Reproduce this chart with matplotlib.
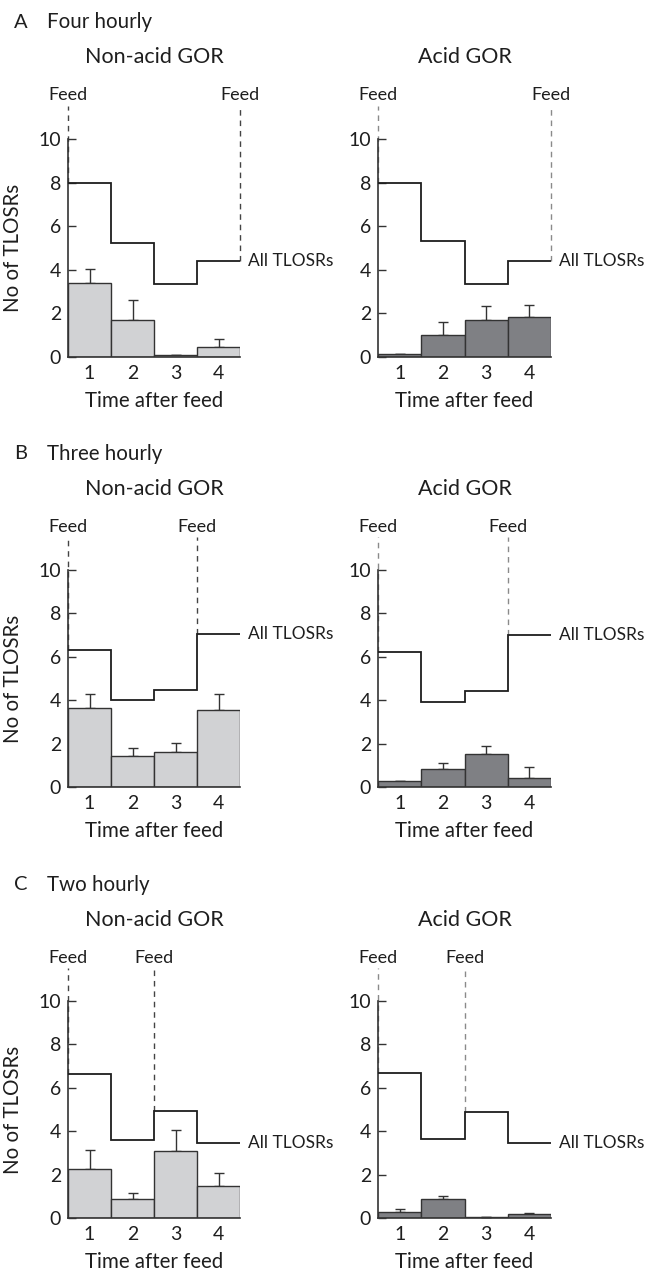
import numpy as np
import matplotlib
matplotlib.use('Agg')
import matplotlib.pyplot as plt

plt.rcParams['font.family'] = ['Lato', 'DejaVu Sans']

W, H = 648, 1271

# time bins after feed
hours = ['1', '2', '3', '4']
edges = [0, 1, 2, 3, 4]

# A: four hourly
a_all_nonacid = [8.0, 5.25, 3.35, 4.4]
a_nonacid = [3.4, 1.72, 0.08, 0.45]
a_nonacid_top = [4.03, 2.62, 0.08, 0.82]
a_all_acid = [8.0, 5.32, 3.35, 4.4]
a_acid = [0.13, 1.0, 1.72, 1.85]
a_acid_top = [0.13, 1.62, 2.33, 2.38]
a_feeds = [0, 4]

# B: three hourly
b_all_nonacid = [6.3, 4.0, 4.45, 7.05]
b_nonacid = [3.63, 1.42, 1.62, 3.53]
b_nonacid_top = [4.27, 1.82, 2.03, 4.27]
b_all_acid = [6.22, 3.94, 4.42, 7.0]
b_acid = [0.27, 0.82, 1.53, 0.41]
b_acid_top = [0.27, 1.11, 1.9, 0.91]
b_feeds = [0, 3]

# C: two hourly
c_all_nonacid = [6.63, 3.6, 4.93, 3.47]
c_nonacid = [2.24, 0.88, 3.09, 1.49]
c_nonacid_top = [3.14, 1.16, 4.05, 2.06]
c_all_acid = [6.68, 3.62, 4.89, 3.44]
c_acid = [0.29, 0.87, 0.03, 0.17]
c_acid_top = [0.43, 1.0, 0.05, 0.25]
c_feeds = [0, 2]

rows = [
    ('A', 'Four hourly', a_feeds,
     (a_all_nonacid, a_nonacid, a_nonacid_top),
     (a_all_acid, a_acid, a_acid_top)),
    ('B', 'Three hourly', b_feeds,
     (b_all_nonacid, b_nonacid, b_nonacid_top),
     (b_all_acid, b_acid, b_acid_top)),
    ('C', 'Two hourly', c_feeds,
     (c_all_nonacid, c_nonacid, c_nonacid_top),
     (c_all_acid, c_acid, c_acid_top)),
]

# pixel layout: y of zero line, pixels per unit
row_zero = [357, 787, 1218]
row_unit = [21.8, 21.7, 21.7]
col_left = [68, 378]
col_width = [172, 173]
col_title = ['Non-acid GOR', 'Acid GOR']
bar_colors = ['#d1d2d4', '#7f8084']
feed_colors = ['#444444', '#8a8a8a']
ink = '#1e1e1e'

fig = plt.figure(figsize=(W / 100, H / 100), dpi=100, facecolor='white')


def fx(x):
    return x / W


def fy(y):
    return 1 - y / H


for r, (letter, name, feeds, non_acid, acid) in enumerate(rows):
    y0 = row_zero[r]
    unit = row_unit[r]
    top = y0 - 12 * unit
    fig.text(fx(14), fy(top - 73), letter, fontsize=14.5, color=ink, va='center')
    fig.text(fx(47), fy(top - 73), name, fontsize=14.8, color=ink, va='center')

    for c, (all_vals, vals, tops) in enumerate([non_acid, acid]):
        ax = fig.add_axes([fx(col_left[c]), fy(y0), col_width[c] / W, 12 * unit / H])
        ax.set_xlim(0, 4)
        ax.set_ylim(0, 12)

        vals = np.array(vals)
        tops = np.array(tops)
        centers = np.arange(4) + 0.5
        ax.bar(centers, vals, width=1.0, color=bar_colors[c],
               edgecolor='#333333', linewidth=1.0, zorder=2)
        ax.errorbar(centers, vals, yerr=[np.zeros(4), tops - vals], fmt='none',
                    ecolor='#333333', elinewidth=1.0, capsize=3.5, capthick=1.0,
                    zorder=1)

        ax.stairs(all_vals, edges, baseline=None, color=ink, linewidth=1.3, zorder=3)

        for f in feeds:
            if f == 0:
                base = all_vals[0]
            elif f == 4:
                base = all_vals[-1]
            else:
                base = max(all_vals[f - 1], all_vals[f])
            ax.plot([f, f], [base, 11.5], color=feed_colors[c], linewidth=1.0,
                    linestyle=(0, (4, 3.5)), zorder=1, clip_on=False)
            ax.text(f, 12.0, 'Feed', ha='center', va='center', fontsize=13,
                    color=ink, clip_on=False)

        ax.text(4.19, all_vals[-1], 'All TLOSRs', ha='left', va='center',
                fontsize=12.5, color=ink, clip_on=False)

        for s in ['top', 'right']:
            ax.spines[s].set_visible(False)
        ax.spines['left'].set_bounds(0, 10)
        ax.spines['bottom'].set_bounds(0, 4)
        for s in ['left', 'bottom']:
            ax.spines[s].set_linewidth(1.2)
            ax.spines[s].set_color('#333333')

        ax.set_yticks([0, 2, 4, 6, 8, 10])
        ax.tick_params(axis='y', direction='in', length=6, width=1.0,
                       labelsize=14, pad=5, colors='#333333', labelcolor=ink)
        ax.set_xticks(centers)
        ax.set_xticklabels(hours)
        ax.tick_params(axis='x', length=0, labelsize=14, pad=6, labelcolor=ink)

        ax.set_xlabel('Time after feed', fontsize=14.8, color=ink, labelpad=6)
        if c == 0:
            ax.set_ylabel('No of TLOSRs', fontsize=14.8, color=ink)
            ax.yaxis.set_label_coords((23 - col_left[c]) / col_width[c], 5 / 12)

        fig.text(fx(col_left[c] + col_width[c] / 2), fy(top - 38), col_title[c],
                 ha='center', va='center', fontsize=15.5, color=ink)

fig.savefig('out.png', dpi=100, facecolor='white')
